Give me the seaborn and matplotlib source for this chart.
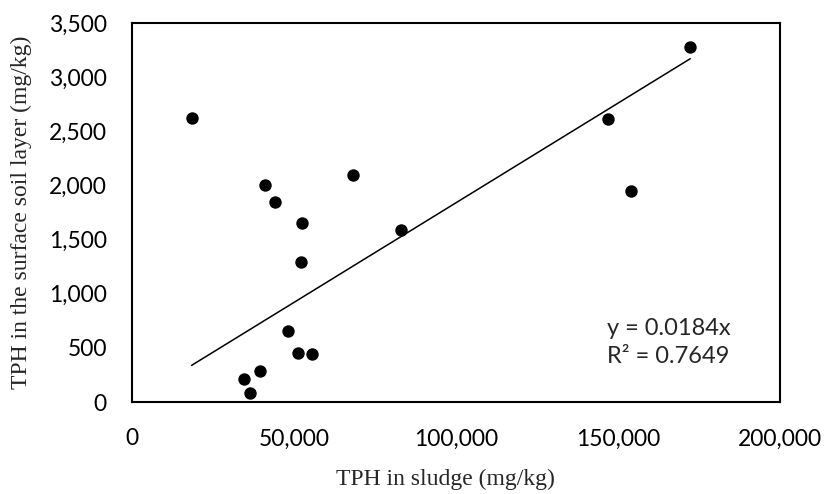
import matplotlib
matplotlib.use("Agg")
import matplotlib.pyplot as plt
import matplotlib.ticker as mticker
import seaborn as sns
import numpy as np
import pandas as pd

# TPH in sludge (x) vs TPH in surface soil layer (y), mg/kg
sludge = [18400, 41000, 44100, 52600, 68300, 83000, 172300, 147000, 153900,
          52200, 48000, 51100, 55500, 39600, 34700, 36400]
soil = [2620, 2000, 1850, 1650, 2100, 1590, 3280, 2610, 1950,
        1290, 660, 450, 445, 285, 215, 80]
slope = 0.0184
r2 = 0.7649
x_ticks = [0, 50000, 100000, 150000, 200000]
y_ticks = [0, 500, 1000, 1500, 2000, 2500, 3000, 3500]

df = pd.DataFrame({"sludge": sludge, "soil": soil})
x_fit = np.array([min(sludge), max(sludge)])
fit = pd.DataFrame({"x": x_fit, "y": slope * x_fit})

sns.set_style("white")
plt.rcParams["font.family"] = ["Lato", "DejaVu Sans"]

fig = plt.figure(figsize=(8.26, 4.94), dpi=100)
ax = fig.add_axes([0.1598, 0.1862, 0.7845, 0.7672])

sns.lineplot(data=fit, x="x", y="y", color="black", linewidth=1.1, ax=ax)
sns.scatterplot(data=df, x="sludge", y="soil", color="black", s=80,
                edgecolor="black", linewidth=0, ax=ax, zorder=3)

ax.set_xlim(0, 200000)
ax.set_ylim(0, 3500)
ax.set_xticks(x_ticks)
ax.set_yticks(y_ticks)
ax.xaxis.set_major_formatter(mticker.StrMethodFormatter("{x:,.0f}"))
ax.yaxis.set_major_formatter(mticker.StrMethodFormatter("{x:,.0f}"))
ax.tick_params(axis="both", length=0, labelsize=16.5, colors="black")
ax.tick_params(axis="x", pad=19)
ax.tick_params(axis="y", pad=18)

for s in ax.spines.values():
    s.set_visible(True)
    s.set_color("black")
    s.set_linewidth(1.5)

serif = ["Liberation Serif", "DejaVu Serif"]
ax.set_xlabel("TPH in sludge (mg/kg)", fontsize=17, family=serif)
ax.set_ylabel("TPH in the surface soil layer (mg/kg)", fontsize=17, family=serif)
ax.xaxis.set_label_coords(0.483, -0.175)
ax.yaxis.set_label_coords(-0.154, 0.5)

ax.text(0.733, 0.156, f"y = {slope}x\nR² = {r2}", transform=ax.transAxes,
        fontsize=17, ha="left", va="center", linespacing=1.4)

fig.savefig("out.png", dpi=100)
